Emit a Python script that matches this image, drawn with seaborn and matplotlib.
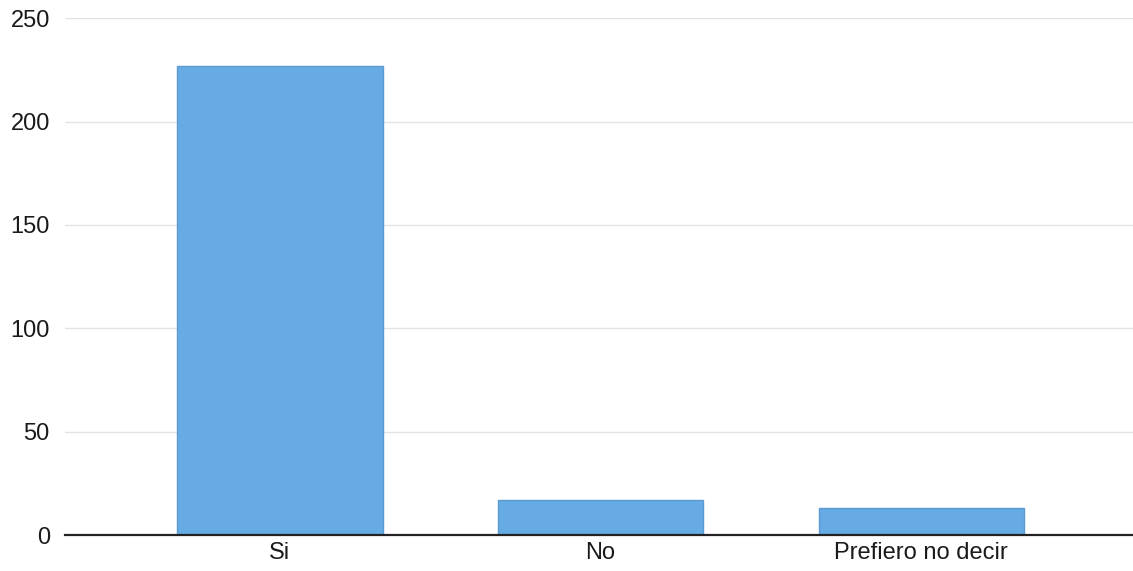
import numpy as np
import pandas as pd
import seaborn as sns
from matplotlib import pyplot as plt

# datos
categorias = ['Si', 'No', 'Prefiero no decir']
respuestas = [227, 17, 13]
yticks = [0, 50, 100, 150, 200, 250]

df = pd.DataFrame({'categoria': categorias, 'respuestas': respuestas})

sns.set_theme(style='white')
plt.rcParams['font.family'] = ['Liberation Sans', 'DejaVu Sans']

fig = plt.figure(figsize=(11.33, 5.71), dpi=100)
ax = fig.add_axes([0.0574, 0.063, 0.9426, 0.905])

sns.barplot(data=df, x='categoria', y='respuestas', ax=ax, width=0.64,
            color='#66abe3', saturation=1, edgecolor='#5b9bd2', linewidth=1)

ax.set_xlim(-0.67, 2.66)
ax.set_ylim(0, 250)
ax.set_yticks(yticks)
ax.yaxis.grid(True, color='#e3e3e3', linewidth=1)
ax.set_axisbelow(True)

for s in ['top', 'right', 'left']:
    ax.spines[s].set_visible(False)
ax.spines['bottom'].set_color('#222222')
ax.spines['bottom'].set_linewidth(1.6)

ax.tick_params(axis='both', length=0, labelsize=17, colors='#1a1a1a')
ax.tick_params(axis='y', pad=11)
ax.tick_params(axis='x', pad=5)
ax.set_xlabel('')
ax.set_ylabel('')

plt.savefig('out.png', dpi=100)
